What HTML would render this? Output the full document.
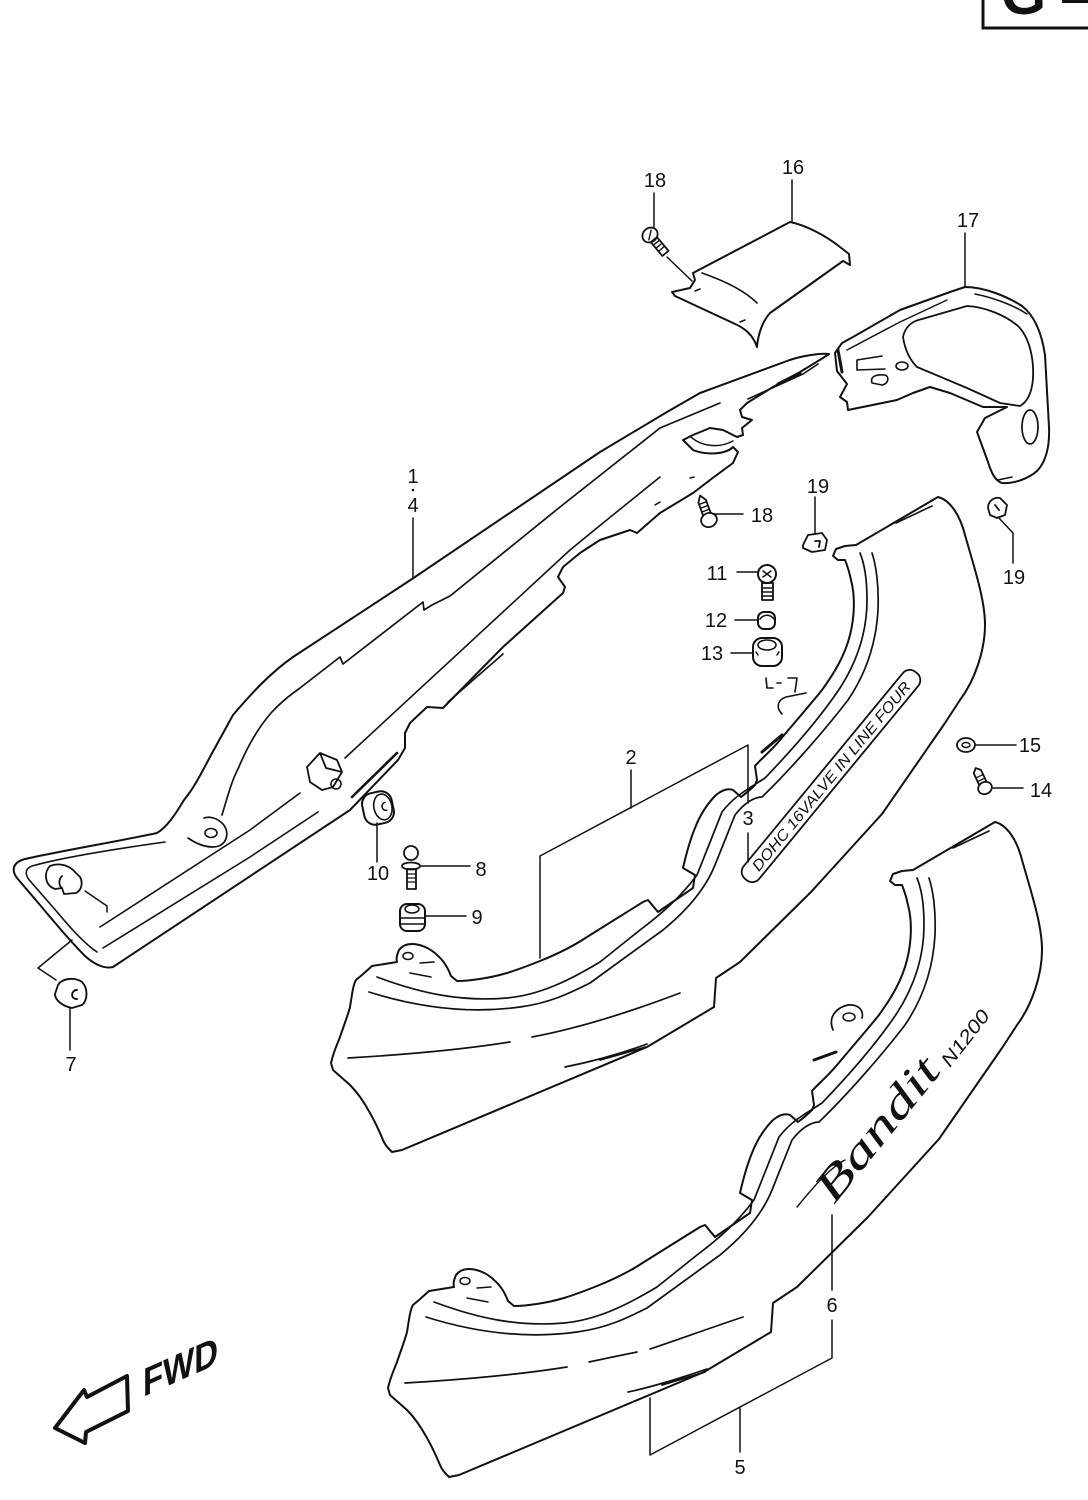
<!DOCTYPE html>
<html>
<head>
<meta charset="utf-8">
<style>
html,body{margin:0;padding:0;background:#fff;}
svg{display:block;}
text{font-family:"Liberation Sans",sans-serif;fill:#111;}
</style>
</head>
<body>
<svg width="1088" height="1500" viewBox="0 0 1088 1500" xmlns="http://www.w3.org/2000/svg">
<rect width="1088" height="1500" fill="#fff"/>

<!-- G box -->
<rect x="983" y="-6" width="112" height="34" fill="none" stroke="#111" stroke-width="3"/>
<text x="1001" y="14" font-size="58" font-weight="bold">G</text>
<rect x="1062" y="-2" width="26" height="5" fill="#111"/>

<g fill="none" stroke="#111" stroke-width="2" stroke-linejoin="round" stroke-linecap="round">

<!-- ===== PART 1 (long left cover) ===== -->
<path d="M829,354 C820,353 800,356 787,361 L700,393 L667,412 L600,452 L412,579 L293,657 C270,673 250,695 233,715 C222,735 215,748 211,755 C202,772 194,788 184,800 C175,815 167,827 157,833 C120,841 60,851 25,859 C13,862 11,870 17,878 L40,905 C55,923 72,943 85,956 C95,965 105,969 113,967 L350,810 L398,760 L405,748 L405,733 L410,723 L427,707 L443,708 L503,647 L563,593 L565,587 L558,577 L563,567 L580,553 L600,540 L630,530 L637,533 L660,513 L693,493 L710,480 L733,463 L738,452 L733,447 C725,455 705,455 693,450 L683,440 L693,435 L710,428 L723,430 L737,437 L743,435 L742,428 L752,420 L742,417 L740,410 L747,403 L773,387 L800,372 L823,358 Z"/>
<!-- band inner line -->
<path stroke-width="1.7" d="M222,815 C228,795 232,780 238,769 C248,745 258,728 271,713 C280,703 290,695 300,688 L340,657 L343,664 L423,602 L424,610 L432,605 L450,596 L560,507 L660,428 L720,403"/>
<!-- tab with hole -->
<path stroke-width="1.7" d="M188,838 C198,845 210,849 219,846 C228,842 229,831 223,824 C217,818 210,816 204,818"/>
<ellipse cx="211" cy="833" rx="6" ry="4.5" stroke-width="1.6"/>
<!-- long diagonal lines -->
<path stroke-width="1.6" d="M100,927 L250,830 L300,793"/>
<path stroke-width="1.6" d="M345,758 L570,550 L603,523 L660,477"/>
<path stroke-width="1.6" d="M103,948 L250,857 L318,812"/>
<!-- tip inner line -->
<path stroke-width="1.6" d="M165,842 C115,849 60,858 32,866 C24,869 25,876 31,882 L58,913 C72,930 85,944 97,952"/>
<!-- upper right tip inner -->
<path stroke-width="1.6" d="M748,399 L803,374 L818,364"/>
<path stroke-width="3" d="M778,384 L800,373"/>
<path stroke-width="1.6" d="M448,702 L503,654"/>
<path stroke-width="2.6" d="M352,797 L397,753"/>
<path stroke-width="1.5" d="M690,436 C700,446 718,449 733,441"/>
<path stroke-width="1.5" d="M655,505 L660,502 M690,478 L694,477"/>
<!-- clip on part1 -->
<path stroke-width="1.8" d="M307,767 L320,753 L337,760 L342,772 L333,787 L322,790 L310,782 Z M320,753 L326,768 L342,772"/>
<circle cx="336" cy="784" r="5" stroke-width="1.6"/>
<!-- mushroom clip in left tip -->
<path stroke-width="1.8" d="M50,866 C44,872 44,885 55,889 L62,888 L64,894 L76,893 C82,890 83,882 80,877 L75,872 C70,866 60,862 50,866 Z M62,876 C58,880 59,886 62,888"/>

<!-- ===== PART 16 ===== -->
<path d="M693,273 L790,222 C805,225 825,235 840,247 L849,254 L850,265 L843,261 L770,313 C762,322 758,335 757,347 C753,335 745,328 733,323 L675,296 L672,292 L690,288 L695,280 Z"/>
<path stroke-width="1.6" d="M702,273 C725,281 745,291 757,303"/>
<path stroke-width="1.5" d="M695,291 L700,289 M740,322 L745,320"/>

<!-- ===== PART 17 ===== -->
<path d="M965,287 C985,287 1008,297 1022,306 C1035,316 1042,335 1045,355 L1049,427 C1050,448 1045,463 1037,471 C1028,479 1013,484 1002,483 C995,481 991,472 988,462 L977,432 L985,418 L1007,407 L983,407 L950,393 L930,387 L913,393 L897,400 L848,410 L847,402 L840,397 L847,384 L837,371 L835,353 L842,343 L853,337 L900,310 L950,292 Z"/>
<path stroke-width="1.8" d="M903,337 C905,327 912,321 922,319 L967,306 C985,307 1005,315 1018,326 C1030,338 1034,360 1033,378 C1032,393 1027,402 1020,406 L1000,403 L967,388 L917,367 C910,360 905,350 903,337 Z"/>
<path stroke-width="1.5" d="M847,350 L900,322 L947,300 M975,294 C995,298 1015,306 1027,314"/>
<ellipse cx="902" cy="366" rx="6" ry="4" stroke-width="1.6"/>
<path stroke-width="1.6" d="M872,383 C870,377 875,374 885,375 C890,377 888,384 882,385 Z"/>
<path stroke-width="1.6" d="M882,356 L857,360 L857,370 L885,369"/>
<path stroke-width="3" d="M838,350 L842,372"/>
<ellipse cx="1030" cy="427" rx="8" ry="17" stroke-width="1.7"/>
<path stroke-width="1.5" d="M998,480 L1012,477"/>

<!-- ===== PART 2 ===== -->
<g id="p2shape">
<path d="M938,497 C950,500 960,515 965,535 C975,570 985,600 985,625 C985,650 975,680 960,700 L945,723 L882,814 L811,892 L740,962 L716,978 L714,1007 L647,1047 L402,1150 L392,1152 C388,1148 385,1145 383,1140 C378,1128 374,1120 370,1113 C364,1102 358,1093 350,1085 L333,1070 L331,1063 C334,1050 337,1045 340,1037 C344,1025 348,1015 350,1007 C352,995 353,985 356,980 L362,975 L372,966 L397,962 C396,958 397,955 399,950 C402,946 406,944 412,944 C420,944 430,948 437,955 C443,960 448,968 451,976 L457,981 C470,981 490,978 507,973 C520,969 530,965 540,961 C560,953 575,945 587,937 L643,902 L648,900 L658,912 L693,888 L695,875 L683,868 C686,855 690,840 695,828 C700,815 708,803 716,795 C722,790 728,788 733,790 L741,797 C745,794 750,790 755,785 L757,780 L755,766 C760,760 770,752 780,740 C795,722 810,705 822,690 C835,672 845,655 850,635 C855,615 855,595 851,580 C849,570 847,565 845,560 L838,560 L833,556 L836,549 L845,546 L856,545 L938,497 Z"/>
<path stroke-width="1.7" d="M377,977 C420,993 460,1002 507,998 C540,995 570,980 600,962 L640,930 C660,915 680,898 697,875 L722,812 C735,795 750,788 765,778 C790,752 820,718 840,688 C858,660 867,630 867,600 C867,580 865,565 860,553"/>
<path stroke-width="1.7" d="M369,992 C420,1008 470,1014 520,1007 C550,1003 570,993 590,983 L663,930 C685,912 705,890 715,865 L735,815 C745,802 755,797 762,797 C790,770 825,730 848,700 C865,675 876,645 878,610 C879,585 876,565 872,553"/>
<path stroke-width="1.7" d="M348,1058 C400,1055 460,1050 510,1042"/>
<path stroke-width="1.7" d="M532,1037 C580,1028 630,1012 680,993"/>
<path stroke-width="1.7" d="M565,1067 C590,1062 620,1054 647,1044 M600,1060 L646,1047"/>
<path stroke-width="1.6" d="M896,523 L932,506"/>
<ellipse cx="408" cy="956" rx="5" ry="3.5" stroke-width="1.5"/>
<path stroke-width="1.5" d="M420,963 L434,962 M410,973 L431,977"/>
</g>
<!-- part 2 extras -->
<path stroke-width="3" d="M762,752 L782,735"/>
<path stroke-width="1.6" d="M766,678 L767,688 L773,688 M777,683 L781,683 M788,678 L797,678 L795,692 M782,714 C776,708 777,700 786,697 L806,693"/>
<g transform="translate(831,776) rotate(-50.5)">
<rect x="-134" y="-10" width="268" height="20" rx="9" stroke-width="1.8"/>
</g>

<!-- ===== PART 5 (same shape shifted) ===== -->
<g transform="translate(57,325)">
<path d="M938,497 C950,500 960,515 965,535 C975,570 985,600 985,625 C985,650 975,680 960,700 L945,723 L882,814 L811,892 L740,962 L716,978 L714,1007 L647,1047 L402,1150 L392,1152 C388,1148 385,1145 383,1140 C378,1128 374,1120 370,1113 C364,1102 358,1093 350,1085 L333,1070 L331,1063 C334,1050 337,1045 340,1037 C344,1025 348,1015 350,1007 C352,995 353,985 356,980 L362,975 L372,966 L397,962 C396,958 397,955 399,950 C402,946 406,944 412,944 C420,944 430,948 437,955 C443,960 448,968 451,976 L457,981 C470,981 490,978 507,973 C520,969 530,965 540,961 C560,953 575,945 587,937 L643,902 L648,900 L658,912 L693,888 L695,875 L683,868 C686,855 690,840 695,828 C700,815 708,803 716,795 C722,790 728,788 733,790 L741,797 C745,794 750,790 755,785 L757,780 L755,766 C760,760 770,752 780,740 C795,722 810,705 822,690 C835,672 845,655 850,635 C855,615 855,595 851,580 C849,570 847,565 845,560 L838,560 L833,556 L836,549 L845,546 L856,545 L938,497 Z"/>
<path stroke-width="1.7" d="M377,977 C420,993 460,1002 507,998 C540,995 570,980 600,962 L640,930 C660,915 680,898 697,875 L722,812 C735,795 750,788 765,778 C790,752 820,718 840,688 C858,660 867,630 867,600 C867,580 865,565 860,553"/>
<path stroke-width="1.7" d="M369,992 C420,1008 470,1014 520,1007 C550,1003 570,993 590,983 L663,930 C685,912 705,890 715,865 L735,815 C745,802 755,797 762,797 C790,770 825,730 848,700 C865,675 876,645 878,610 C879,585 876,565 872,553"/>
<path stroke-width="1.7" d="M348,1058 C400,1055 460,1050 510,1042"/>
<path stroke-width="1.7" d="M532,1037 C555,1032 570,1029 580,1027 M593,1024 C620,1015 650,1004 686,992"/>
<path stroke-width="1.7" d="M571,1067 C595,1062 620,1054 650,1044 M605,1060 L648,1047"/>
<path stroke-width="1.6" d="M896,523 L932,506"/>
<ellipse cx="408" cy="956" rx="5" ry="3.5" stroke-width="1.5"/>
<path stroke-width="1.5" d="M420,963 L434,962 M410,973 L431,977"/>
</g>
<!-- part 5 extras -->
<path stroke-width="1.7" d="M833,1030 C828,1018 835,1008 848,1005 C858,1004 864,1010 862,1018"/>
<ellipse cx="849" cy="1017" rx="6" ry="4" stroke-width="1.5"/>
<path stroke-width="3" d="M814,1060 L836,1052"/>
<path stroke-width="1.4" d="M797,1207 C815,1185 830,1168 845,1160"/>

<!-- ===== HARDWARE ===== -->
<!-- screw 18 top -->
<g transform="translate(650,235) rotate(50)">
<ellipse cx="0" cy="0" rx="7" ry="8" stroke-width="1.8"/>
<rect x="6" y="-4" width="18" height="8" stroke-width="1.8"/>
<path stroke-width="1.4" d="M10,-4 L10,4 M14,-4 L14,4 M18,-4 L18,4 M-3,-4 L3,4"/>
</g>
<!-- screw 18 mid -->
<g transform="translate(709,520) rotate(-110)">
<ellipse cx="0" cy="0" rx="7" ry="8" stroke-width="1.8"/>
<path stroke-width="1.8" d="M6,-4 L20,-4 L26,0 L20,4 L6,4"/>
<path stroke-width="1.4" d="M10,-4 L10,4 M14,-4 L14,4 M18,-4 L18,4"/>
</g>
<!-- bolt 11 -->
<circle cx="767" cy="574" r="9" stroke-width="2"/>
<path stroke-width="1.5" d="M763,571 L771,577 M771,571 L763,577"/>
<rect x="762" y="583" width="11" height="17" stroke-width="1.8"/>
<path stroke-width="1.4" d="M762,588 L773,588 M762,592 L773,592 M762,596 L773,596"/>
<!-- nut 12 -->
<rect x="758" y="612" width="17" height="17" rx="6" stroke-width="2"/>
<path stroke-width="1.6" d="M760,619 C764,614 770,614 774,619"/>
<!-- collar 13 -->
<rect x="753" y="638" width="29" height="28" rx="9" stroke-width="2"/>
<ellipse cx="767" cy="645" rx="9" ry="5" stroke-width="1.6"/>
<path stroke-width="1.5" d="M756,652 L758,655 M779,652 L777,655"/>
<!-- clip 19 left -->
<path stroke-width="1.8" d="M803,545 L808,535 L822,533 L827,540 L825,550 L812,552 L803,548 Z M815,541 L820,541 L819,547"/>
<!-- clip 19 right -->
<path stroke-width="1.8" d="M988,508 C988,500 995,497 1000,498 L1007,505 L1005,515 L997,518 L990,515 Z M995,505 L999,510"/>
<!-- washer 15 -->
<ellipse cx="966" cy="745" rx="9" ry="7" stroke-width="1.8"/>
<ellipse cx="966" cy="745" rx="4" ry="2.5" stroke-width="1.4"/>
<!-- screw 14 -->
<g transform="translate(985,788) rotate(-115)">
<ellipse cx="0" cy="0" rx="6" ry="7" stroke-width="1.8"/>
<path stroke-width="1.8" d="M5,-4 L18,-4 L22,0 L18,4 L5,4"/>
<path stroke-width="1.3" d="M9,-4 L9,4 M13,-4 L13,4"/>
</g>
<!-- grommet 10 -->
<g transform="translate(378,808) rotate(-12)">
<rect x="-15" y="-16" width="30" height="32" rx="11" stroke-width="2"/>
<ellipse cx="5" cy="0" rx="9" ry="13" stroke-width="1.6"/>
<path stroke-width="1.5" d="M8,-4 C3,-4 3,4 8,4"/>
</g>
<!-- screw 8 -->
<circle cx="411" cy="853" r="7" stroke-width="1.8"/>
<ellipse cx="411" cy="866" rx="9" ry="3.5" stroke-width="1.8"/>
<rect x="407" y="869" width="9" height="20" stroke-width="1.8"/>
<path stroke-width="1.3" d="M407,874 L416,874 M407,878 L416,878 M407,882 L416,882"/>
<!-- grommet 9 -->
<rect x="400" y="904" width="25" height="27" rx="7" stroke-width="2"/>
<ellipse cx="412" cy="909" rx="7" ry="4" stroke-width="1.5"/>
<path stroke-width="1.5" d="M400,918 L425,918 M400,924 L425,924"/>
<!-- clip 7 -->
<path stroke-width="1.9" d="M58,985 C62,978 75,977 82,982 C88,988 88,1000 82,1005 L72,1008 C62,1006 55,1000 55,994 Z M77,990 C71,990 70,999 77,999"/>

<!-- ===== LEADERS ===== -->
<g stroke-width="1.5">
<path d="M654,193 L654,228"/>
<path d="M667,257 L692,281"/>
<path d="M792,180 L792,222"/>
<path d="M965,233 L965,287"/>
<path d="M413,518 L413,577"/>
<path d="M815,497 L815,533"/>
<path d="M713,514 L743,514"/>
<path d="M737,572 L758,572"/>
<path d="M735,620 L757,620"/>
<path d="M731,653 L753,653"/>
<path d="M998,517 L1013,533 L1013,563"/>
<path d="M976,745 L1016,745"/>
<path d="M992,788 L1023,788"/>
<path d="M631,770 L631,808"/>
<path d="M540,958 L540,856 L748,745 L748,803"/>
<path d="M748,833 L748,862"/>
<path d="M377,823 L377,862"/>
<path d="M420,866 L470,866"/>
<path d="M425,916 L466,916"/>
<path d="M70,1008 L70,1050"/>
<path d="M56,980 L38,968 L72,940"/>
<path d="M85,891 L107,906 L107,912"/>
<path d="M832,1290 L832,1215"/>
<path d="M832,1320 L832,1358 L650,1455 L650,1398"/>
<path d="M740,1452 L740,1408"/>
</g>

<!-- FWD arrow -->
<path stroke-width="4" d="M55,1428 L84,1390 L87,1397 L127,1376 L128,1411 L86,1432 L85,1443 Z"/>
</g>

<!-- decal texts -->
<g transform="translate(831,776) rotate(-50.5)">
<text x="0" y="5.5" text-anchor="middle" font-size="15" textLength="240" lengthAdjust="spacingAndGlyphs" font-style="italic">DOHC 16VALVE IN LINE FOUR</text>
</g>
<text transform="translate(834,1205) rotate(-51)" font-family="Liberation Serif" font-style="italic" font-size="44" textLength="172" lengthAdjust="spacingAndGlyphs" style="font-family:'Liberation Serif',serif">Bandit</text>
<text transform="translate(950,1068) rotate(-52)" font-size="19" font-style="italic" textLength="66" lengthAdjust="spacingAndGlyphs">N1200</text>

<!-- FWD text -->
<g transform="translate(143,1397) skewY(-24)">
<text x="0" y="0" font-size="40" font-weight="bold" textLength="75" lengthAdjust="spacingAndGlyphs">FWD</text>
</g>

<!-- labels -->
<g font-size="20" text-anchor="middle">
<text x="655" y="187">18</text>
<text x="793" y="174">16</text>
<text x="968" y="227">17</text>
<text x="413" y="483">1</text>
<text x="413" y="512">4</text>
<text x="818" y="493">19</text>
<text x="762" y="522">18</text>
<text x="717" y="580">11</text>
<text x="716" y="627">12</text>
<text x="712" y="660">13</text>
<text x="1014" y="584">19</text>
<text x="1030" y="752">15</text>
<text x="1041" y="797">14</text>
<text x="631" y="764">2</text>
<text x="748" y="825">3</text>
<text x="378" y="880">10</text>
<text x="481" y="876">8</text>
<text x="477" y="924">9</text>
<text x="71" y="1071">7</text>
<text x="832" y="1312">6</text>
<text x="740" y="1474">5</text>
</g>
<circle cx="413" cy="490" r="1.3" fill="#111"/>
</svg>
</body>
</html>
